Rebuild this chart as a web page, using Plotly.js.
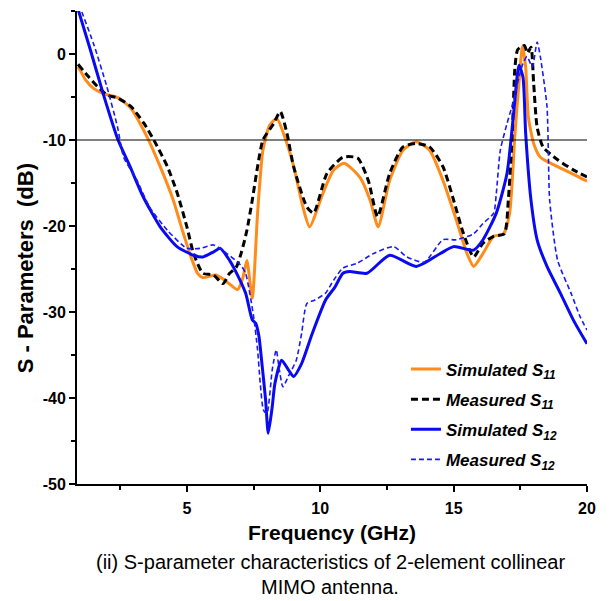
<!DOCTYPE html>
<html>
<head>
<meta charset="utf-8">
<script src="https://cdn.plot.ly/plotly-3.0.1.min.js"></script>
<style>
html,body{margin:0;padding:0;background:#fff;}
#chart{width:613px;height:601px;}
</style>
</head>
<body>
<div id="chart"></div>
<script>
// Simulated S11 (orange solid)
var simS11Freq = [0.92, 1.0, 1.2, 1.5, 1.86, 2.42, 2.87, 3.5, 4.0, 4.49, 4.86, 5.2, 5.4, 5.6, 6.1, 6.5, 6.9, 7.1, 7.25, 7.45, 7.65, 7.85, 8.1, 8.37, 8.75, 9.0, 9.35, 9.6, 10.1, 10.5, 10.9, 11.5, 11.87, 12.17, 12.6, 13.1, 13.6, 14.1, 14.6, 15.1, 15.5, 15.75, 16.1, 16.5, 16.87, 17.1, 17.3, 17.45, 17.58, 17.7, 17.8, 18.0, 18.25, 18.9, 19.5, 20];
var simS11dB   = [-1.5, -1.9, -3.0, -4.0, -4.6, -5.1, -6.2, -9.6, -13.1, -17, -20.8, -24, -25.5, -26, -25.7, -26.5, -27.4, -26, -24, -28.4, -18.5, -11.2, -8.3, -7.5, -10.4, -13, -17.8, -20.1, -16.2, -13.5, -12.7, -14.4, -17, -20.1, -14.7, -11.2, -10.2, -11.2, -14.7, -19.3, -23.2, -24.7, -23.2, -21.2, -20.9, -18.5, -9.2, -3.4, 0.9, -1.5, -7.3, -10.4, -12, -13.1, -14.0, -14.8];

// Measured S11 (black dashed)
var meaS11Freq = [0.92, 1.3, 1.65, 2.03, 2.4, 2.9, 3.4, 3.76, 4.27, 4.64, 5.0, 5.25, 5.6, 6.0, 6.35, 6.6, 6.85, 7.05, 7.25, 7.45, 7.65, 7.85, 8.25, 8.5, 8.75, 9.0, 9.5, 9.75, 10.25, 10.85, 11.4, 11.8, 12.15, 12.6, 13.1, 13.6, 14.1, 14.6, 15.0, 15.36, 15.75, 16.1, 16.5, 16.9, 17.05, 17.2, 17.3, 17.4, 17.65, 17.77, 17.9, 18.0, 18.13, 18.35, 18.9, 19.5, 20];
var meaS11dB   = [-1.2, -2.6, -3.8, -4.8, -5.1, -6.1, -8.1, -10, -13.1, -16.2, -20.1, -23.2, -25.5, -25.7, -26.7, -25.5, -24.8, -23, -20.5, -17, -13.1, -10, -8.1, -6.7, -9.2, -13.1, -17.8, -18.5, -13.9, -12.0, -12.1, -14.7, -18.9, -13.9, -10.8, -10.4, -10.8, -13.1, -17, -20.8, -23.6, -22, -21.2, -20.9, -17, -9.2, -1.5, 0.5, 1.0, 0.1, 0.8, -3.4, -8.5, -10.8, -12.3, -13.5, -14.3];

// Simulated S12 (blue solid)
var simS12Freq = [0.92, 1.38, 1.86, 2.42, 2.87, 3.36, 4.0, 4.63, 5.25, 5.6, 6.0, 6.25, 6.6, 6.8, 7.2, 7.45, 7.58, 7.7, 7.8, 7.95, 8.05, 8.2, 8.3, 8.55, 8.8, 9.0, 9.3, 9.7, 10.2, 10.55, 10.85, 11.1, 11.75, 12.6, 13.6, 14.5, 15.0, 15.75, 16.1, 16.6, 17.0, 17.25, 17.45, 17.6, 17.7, 17.9, 18.13, 18.5, 19.0, 19.5, 20];
var simS12dB   = [5.2, 0.5, -4.6, -10, -13.1, -16.6, -20.1, -22.4, -23.4, -23.6, -23.0, -22.6, -24, -25.1, -27.8, -30.9, -31.3, -32.8, -35.6, -40.2, -44.1, -41, -38.3, -35.6, -36.7, -37.5, -36, -32.5, -28.6, -27.1, -25.5, -25.3, -25.5, -23.4, -24.7, -23.2, -22.4, -22.8, -21.6, -18.5, -13.9, -6.9, -1.3, -2.7, -9.2, -17, -21.6, -24.7, -27.8, -31, -33.7];

// Measured S12 (blue dashed)
var meaS12Freq = [0.95, 1.5, 2.0, 2.4, 2.63, 3.13, 3.6, 4.27, 5.0, 5.5, 6.0, 6.5, 7.0, 7.2, 7.5, 7.65, 7.75, 7.87, 8.0, 8.2, 8.35, 8.45, 8.6, 8.8, 9.1, 9.3, 9.5, 9.8, 10.2, 10.5, 10.85, 11.4, 12.0, 12.75, 13.25, 13.9, 14.6, 15.1, 15.75, 16.1, 16.5, 16.6, 16.75, 17.0, 17.25, 17.45, 17.6, 17.75, 17.95, 18.13, 18.25, 18.5, 18.55, 18.6, 18.9, 19.4, 19.75, 20];
var meaS12dB   = [5.8, 1.2, -3.8, -8.5, -12, -14.7, -17.8, -20.5, -22.6, -22.6, -22.2, -23.2, -24.5, -25.5, -30.5, -34.4, -38.3, -41.4, -41.8, -36.7, -34.4, -36.4, -38.7, -37.5, -35.6, -32.5, -29, -28.6, -27.8, -26.3, -24.9, -24.3, -23.2, -22.4, -23.6, -24.2, -21.6, -21.6, -20.9, -19.7, -18.5, -16.2, -11.2, -8.1, -5.4, -2.7, -1.1, -0.3, -1.5, 1.4, -0.3, -6.1, -11.2, -17, -24, -27.8, -30.6, -32.1];

var seriesNames = ["<i>Simulated S<sub>11</sub></i>", "<i>Measured S<sub>11</sub></i>", "<i>Simulated S<sub>12</sub></i>", "<i>Measured S<sub>12</sub></i>"];
var xTickVals = [5, 10, 15, 20];
var yTickVals = [-50, -40, -30, -20, -10, 0];
var refLevel = -10;
var yTitleText = "S - Parameters&nbsp; (dB)";
var captionLines = ["(ii) S-parameter characteristics of 2-element collinear", "MIMO antenna."];

var FONT = "'Liberation Sans', Arial, sans-serif";

var traces = [
  {x: simS11Freq, y: simS11dB, name: seriesNames[0], legendgroup: "a", mode: "lines", line: {color: "#FF8C1A", width: 3, shape: "spline", smoothing: 0.6}},
  {x: meaS11Freq, y: meaS11dB, name: seriesNames[1], legendgroup: "b", mode: "lines", line: {color: "#000000", width: 3, dash: "7px,4px", shape: "spline", smoothing: 0.6}},
  {x: simS12Freq, y: simS12dB, name: seriesNames[2], legendgroup: "c", mode: "lines", line: {color: "#0A0AF0", width: 3, shape: "spline", smoothing: 0.6}},
  {x: meaS12Freq, y: meaS12dB, name: seriesNames[3], legendgroup: "d", mode: "lines", line: {color: "#1A1AF5", width: 1.6, dash: "5px,3px", shape: "spline", smoothing: 0.6}}
];

var layout = {
  width: 613, height: 601,
  margin: {l: 77, r: 26, t: 11, b: 117},
  paper_bgcolor: "#fff", plot_bgcolor: "#fff",
  font: {family: FONT, color: "#000"},
  showlegend: true,
  legend: {x: 0.645, y: 0.28, xanchor: "left", yanchor: "top", bgcolor: "rgba(0,0,0,0)",
           font: {family: FONT, size: 17, weight: "bold", color: "#000"}, tracegroupgap: 5, traceorder: "grouped"},
  xaxis: {
    range: [0.88, 20], showgrid: false, zeroline: false,
    showline: true, linecolor: "#000", linewidth: 2, mirror: false,
    ticks: "outside", ticklen: 6, tickwidth: 2, tickcolor: "#000",
    tickvals: xTickVals, ticktext: xTickVals.map(String), ticklabelstandoff: 3,
    minor: {dtick: 2.5, tick0: 0, ticks: "outside", ticklen: 4, tickwidth: 2, tickcolor: "#000"},
    tickfont: {family: FONT, size: 16, weight: "bold"},
    title: {text: "Frequency (GHz)", font: {family: FONT, size: 21, weight: "bold"}, standoff: 9}
  },
  yaxis: {
    range: [-50, 5], showgrid: false, zeroline: false,
    showline: true, linecolor: "#000", linewidth: 2,
    ticks: "outside", ticklen: 6, tickwidth: 2, tickcolor: "#000",
    tickvals: yTickVals, ticktext: yTickVals.map(String),
    minor: {dtick: 5, tick0: 0, ticks: "outside", ticklen: 4, tickwidth: 2, tickcolor: "#000"},
    tickfont: {family: FONT, size: 16, weight: "bold"}
  },
  shapes: [
    {type: "line", xref: "paper", x0: 0, x1: 1, yref: "y", y0: refLevel, y1: refLevel, line: {color: "#000", width: 1}}
  ],
  annotations: [
    {text: yTitleText, xref: "paper", yref: "paper", x: -0.102, y: 0.456, xanchor: "center", yanchor: "middle", textangle: -90, showarrow: false, font: {family: FONT, size: 22, weight: "bold", color: "#000"}},
    {text: captionLines[0], xref: "paper", yref: "paper", x: 0.497, y: -0.165, xanchor: "center", yanchor: "middle", showarrow: false, font: {family: FONT, size: 20, color: "#000"}},
    {text: captionLines[1], xref: "paper", yref: "paper", x: 0.497, y: -0.218, xanchor: "center", yanchor: "middle", showarrow: false, font: {family: FONT, size: 20, color: "#000"}}
  ]
};

Plotly.newPlot("chart", traces, layout, {displayModeBar: false, staticPlot: true});
</script>
</body>
</html>
